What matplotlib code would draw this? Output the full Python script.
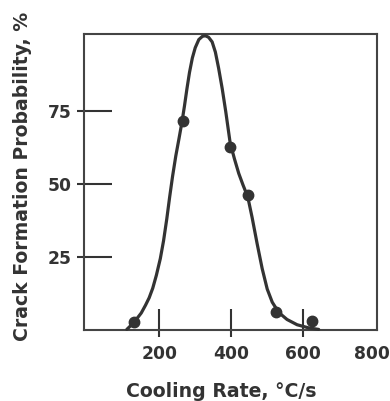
import matplotlib
matplotlib.use("Agg")
import matplotlib.pyplot as plt
import matplotlib.transforms as mtrans

# measured points
pt_rate = [130, 265, 397, 446, 524, 625]
pt_prob = [2.7, 71.5, 62.4, 46.2, 6.3, 3.0]

# fitted curve
curve_rate = [110, 125, 138, 150, 162, 172, 182, 192, 203, 212, 221, 229, 237, 246, 255,
              263, 270, 277, 284, 292, 300, 310, 320, 328, 337, 347, 356, 365, 375, 385,
              397, 409, 421, 433, 446, 458, 472, 486, 500, 514, 532, 555, 583, 616, 643]
curve_prob = [0.2, 2.0, 3.9, 5.8, 8.5, 11.0, 14.3, 18.7, 24.4, 30.5, 38.0, 45.5, 52.5, 59.5, 65.5,
              71.0, 76.5, 82.5, 88.0, 93.0, 96.5, 99.3, 100.4, 100.6, 100.1, 98.5, 95.0, 89.5, 82.5, 74.5,
              64.0, 58.5, 53.5, 49.5, 45.5, 38.5, 29.5, 21.0, 14.0, 9.5, 6.0, 3.6, 1.8, 0.7, 0.2]

xticks = [200, 400, 600, 800]
yticks = [25, 50, 75]

ink = "#333333"
plt.rcParams['font.family'] = ['DejaVu Sans']

fig = plt.figure(figsize=(3.9, 4.01), dpi=100)
ax = fig.add_axes([84/390, 71/401, 293/390, 296/401])

ax.plot(curve_rate, curve_prob, color=ink, lw=2.3, solid_joinstyle='round',
        solid_capstyle='round', clip_on=False, zorder=3)
ax.plot(pt_rate, pt_prob, 'o', color=ink, ms=7.5, clip_on=False, zorder=4)

ax.set_xlim(-9, 805)
ax.set_ylim(0, 101.2)

for s in ax.spines.values():
    s.set_linewidth(1.5)
    s.set_color("#444444")

ax.set_xticks(xticks)
ax.set_xticklabels([str(v) for v in xticks])
ax.set_yticks(yticks)
ax.set_yticklabels([str(v) for v in yticks])
ax.tick_params(axis='x', direction='in', length=15, width=1.5, color=ink, pad=11,
               labelsize=12.3, labelcolor=ink)
ax.tick_params(axis='y', direction='in', length=20, width=1.5, color=ink, pad=9,
               labelsize=12.3, labelcolor=ink)
for lab in ax.get_xticklabels() + ax.get_yticklabels():
    lab.set_fontweight('bold')
ax.xaxis.get_major_ticks()[-1].tick1line.set_visible(False)
last = ax.get_xticklabels()[-1]
last.set_transform(last.get_transform() + mtrans.ScaledTranslation(-3.5/100, 0, fig.dpi_scale_trans))

# short outward stubs
ax.xaxis.remove_overlapping_locs = False
ax.yaxis.remove_overlapping_locs = False
ax.set_xticks(xticks[:-1], minor=True)
ax.set_yticks(yticks, minor=True)
ax.tick_params(which='minor', direction='out', length=5, width=1.5, color=ink)

fig.text(221/390, 1 - 397/401, "Cooling Rate, °C/s", ha='center', va='baseline',
         fontsize=13.6, fontweight='bold', color=ink)
fig.text(23/390, 1 - 176/401, "Crack Formation Probability, %", ha='center', va='center',
         rotation=90, fontsize=13.6, fontweight='bold', color=ink)

fig.savefig("out.png", dpi=100)
